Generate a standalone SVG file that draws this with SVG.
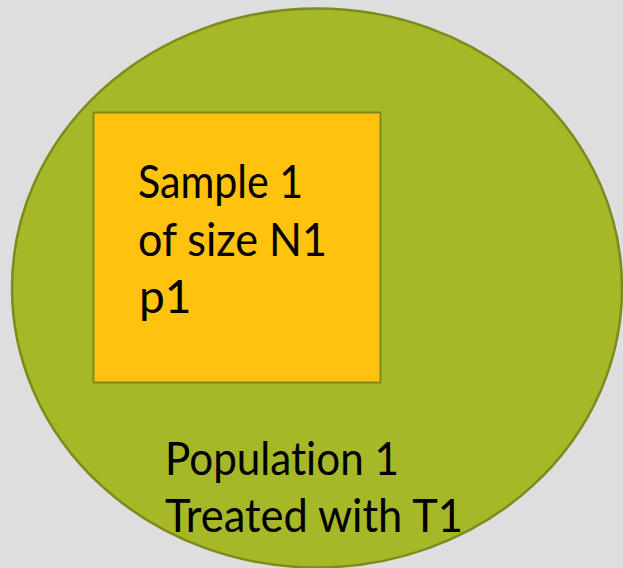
<svg xmlns="http://www.w3.org/2000/svg" width="623" height="568" viewBox="0 0 623 568">
  <style>
    .pop { fill: #a6b727; stroke: #7b8b1c; stroke-width: 2.5; }
    .samp { fill: #ffc20e; stroke: #7b8b1c; stroke-width: 2; }
    .t { font-family: Lato, "Open Sans", "Liberation Sans", sans-serif; font-size: 46px; fill: #000; font-variant-ligatures: none; }
  </style>
  <rect x="0" y="0" width="623" height="568" fill="#dedede"/>
  <g id="population">
    <ellipse class="pop" cx="317" cy="288" rx="305" ry="279.5"/>
    <text class="t" x="165" y="475" textLength="234" lengthAdjust="spacingAndGlyphs">Population 1</text>
    <text class="t" x="165" y="532" textLength="298" lengthAdjust="spacingAndGlyphs">Treated with T1</text>
  </g>
  <g id="sample">
    <rect class="samp" x="93.5" y="112.5" width="287" height="270"/>
    <text class="t" x="138" y="198" textLength="165" lengthAdjust="spacingAndGlyphs">Sample 1</text>
    <text class="t" x="138" y="255.5" textLength="189" lengthAdjust="spacingAndGlyphs">of size N1</text>
    <text class="t" x="139" y="313">p1</text>
  </g>
  <g id="connectors"/>
</svg>
